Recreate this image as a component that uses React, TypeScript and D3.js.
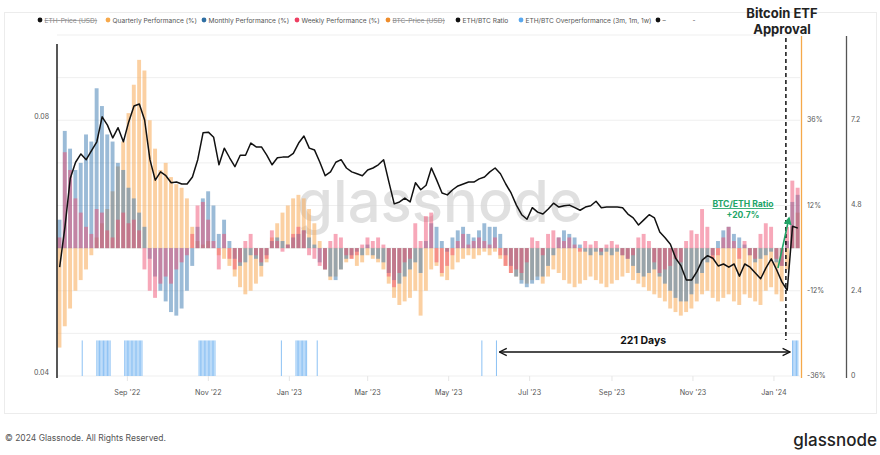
import React from 'react';
import * as d3 from 'd3';

// ---------- data ----------
const sampleStart = '2022-07-12';
const stepDays = 4;

const ethBtcRatio = [
  0.0570, 0.0633, 0.0709, 0.0734, 0.0747, 0.0738, 0.0752, 0.0766, 0.0805, 0.0792,
  0.0772, 0.0788, 0.0766, 0.0797, 0.0822, 0.0825, 0.0800, 0.0738, 0.0706, 0.0719,
  0.0713, 0.0702, 0.0703, 0.0700, 0.0700, 0.0711, 0.0738, 0.0780, 0.0781, 0.0773,
  0.0730, 0.0756, 0.0741, 0.0727, 0.0745, 0.0745, 0.0764, 0.0758, 0.0758, 0.0745,
  0.0730, 0.0741, 0.0742, 0.0742, 0.0748, 0.0764, 0.0775, 0.0756, 0.0753, 0.0734,
  0.0713, 0.0719, 0.0734, 0.0738, 0.0725, 0.0719, 0.0716, 0.0713, 0.0722, 0.0725,
  0.0730, 0.0738, 0.0703, 0.0669, 0.0672, 0.0678, 0.0672, 0.0702, 0.0691, 0.0698,
  0.0725, 0.0706, 0.0686, 0.0683, 0.0691, 0.0697, 0.0700, 0.0703, 0.0703, 0.0708,
  0.0711, 0.0719, 0.0725, 0.0716, 0.0700, 0.0686, 0.0667, 0.0652, 0.0645, 0.0663,
  0.0656, 0.0653, 0.0661, 0.0670, 0.0664, 0.0666, 0.0667, 0.0663, 0.0659, 0.0664,
  0.0666, 0.0673, 0.0663, 0.0664, 0.0664, 0.0664, 0.0663, 0.0653, 0.0647, 0.0636,
  0.0644, 0.0652, 0.0647, 0.0625, 0.0616, 0.0606, 0.0584, 0.0572, 0.0550, 0.0550,
  0.0563, 0.0581, 0.0588, 0.0584, 0.0572, 0.0575, 0.0570, 0.0575, 0.0556, 0.0575,
  0.0570, 0.0561, 0.0552, 0.0569, 0.0583, 0.0566, 0.0547, 0.0534, 0.0634, 0.0631,
];

const quarterlyPerf = [
  -28, -22, -17, -12, -9, -6, -2, 3, 7, 11,
  16, 23, 30, 38, 46, 53, 50, 36, 28, 22,
  24, 20, 18, 17, 14, 6, 2, 1, 2, 0,
  -2, -3, -5, -8, -11, -13, -12, -10, -8, -4,
  3, 7, 10, 12, 14, 15, 14, 11, 7, 2,
  -6, -9, -8, -6, -4, -3, -5, -4, -2, -3,
  -4, -6, -10, -14, -16, -15, -14, -12, -19, -12,
  -6, -5, -8, -9, -6, -4, -3, -2, -3, -2,
  -1, -2, -1, -3, -5, -7, -8, -9, -10, -9,
  -8, -10, -8, -6, -7, -9, -10, -11, -10, -9,
  -8, -9, -10, -11, -10, -9, -8, -7, -9, -10,
  -11, -12, -13, -14, -15, -17, -18, -19, -18, -17,
  -15, -13, -12, -14, -15, -14, -13, -15, -16, -13,
  -14, -15, -16, -12, -11, -13, -15, -6, 6, 10,
];

const monthlyPerf = [
  8, 33, 28, 22, 24, 32, 30, 45, 40, 32,
  30, 24, 22, 17, 14, 10, 6, -3, -8, -12,
  -15, -18, -19, -17, -12, -5, 6, 14, 16, 12,
  4, 8, 2, -3, -5, -4, -2, -3, -5, -2,
  2, 3, 2, 1, 3, 4, 5, 3, 1, -4,
  -6, -8, -9, -6, -3, -2, -1, -2, 1, -2,
  -3, -4, -7, -9, -10, -8, -6, -4, -7, 2,
  7, 6, 2, -1, 3, 5, 6, 4, 3, 5,
  7, 6, 6, 4, -2, -5, -8, -10, -11, -10,
  -9, -8, -5, -2, 3, 5, 4, 3, 1, -1,
  -2, -1, -2, -1, -2, -1, -2, -3, -5, -7,
  -8, -7, -6, -8, -10, -12, -14, -15, -15, -13,
  -10, -7, -4, -2, 2, 5, 6, 4, 3, 1,
  -2, -4, -3, -2, -1, -4, -5, 2, 13, 15,
];

const weeklyPerf = [
  3, 27, 22, 14, 10, 6, 4, 11, 10, 5,
  3, 8, 10, 7, 8, 5, -6, -12, -14, -10,
  -8, -10, -6, -4, -2, 4, 12, 13, 8, 2,
  -6, 4, -3, -6, -4, 2, 4, -2, -4, -3,
  5, 2, -1, 1, 4, 6, 5, -2, -3, -5,
  -6, 2, 4, 3, -2, -3, -2, 1, 3, 2,
  3, 1, -8, -11, -7, -4, -3, 7, 2, 9,
  10, -4, -7, -5, -2, 2, 4, 1, 2, 3,
  2, 1, 3, -2, -5, -7, -6, -7, -4, 3,
  2, -2, 4, 5, 3, 2, 3, 1, -1, 2,
  1, 2, -1, 1, 2, 1, -2, -3, -2, 3,
  4, 2, -4, -7, -6, -5, -3, -4, 2, 5,
  4, 11, 6, -3, -2, 3, 6, 2, -3, 2,
  -2, -3, 4, 7, 6, -3, -5, 6, 19, 17,
];

// days on which ETH/BTC overperformed on all of 3m, 1m, 1w (value 1)
const overperfRanges: [string, string][] = [
  ['2022-07-29', '2022-07-29'],
  ['2022-08-09', '2022-08-19'],
  ['2022-08-30', '2022-09-12'],
  ['2022-10-25', '2022-11-06'],
  ['2022-12-26', '2022-12-26'],
  ['2023-01-06', '2023-01-14'],
  ['2023-01-22', '2023-01-22'],
  ['2023-05-26', '2023-05-26'],
  ['2023-06-06', '2023-06-06'],
  ['2024-01-15', '2024-01-19'],
];

const monthTicks = ['2022-09-01', '2022-11-01', '2023-01-01', '2023-03-01', '2023-05-01', '2023-07-01', '2023-09-01', '2023-11-01', '2024-01-01'];
const ratioTicks = [0.04, 0.08];
const pctTicks = [36, 12, -12, -36];
const pctGrid = [60, 48, 36, 24, 12, 0, -12, -24, -36];
const overTicks = [0, 2.4, 4.8, 7.2];

const legendLabels = [
  'ETH-Price (USD)', 'Quarterly Performance (%)', 'Monthly Performance (%)', 'Weekly Performance (%)',
  'BTC-Price (USD)', 'ETH/BTC Ratio', 'ETH/BTC Overperformance (3m, 1m, 1w)', '–', '-',
];
const legendColors = ['#111', '#f7a94b', '#2f6fa3', '#ee3f62', '#ee8c2b', '#111', '#5aa8ee', '#111', 'none'];
const legendDisabled = [true, false, false, false, true, false, false, false, false];
const legendX = [40, 108, 204, 297, 388, 458, 521, 658, 688];

const etfDate = '2024-01-10';
const gapStart = '2023-06-06';
const gapEnd = '2024-01-13';

// ---------- component ----------
export default function App() {
  const W = 880, H = 455;
  const parse = d3.utcParse('%Y-%m-%d');
  const P = (s: string) => parse(s) as Date;

  const x = d3.scaleUtc().domain([P('2022-07-10'), P('2024-01-21')]).range([57, 800.5]);
  const yPct = d3.scaleLinear().domain([-36, 60]).range([376, 35]);
  const yRatio = d3.scaleLinear().domain([0.04, 0.08]).range([376, 120]);
  const yOver = d3.scaleLinear().domain([0, 7.2]).range([376, 120]);

  const start = P(sampleStart);
  const dateAt = (k: number) => d3.utcDay.offset(start, k * stepDays);
  const half = stepDays / 2;

  const bars = (vals: number[], color: string, op: number) =>
    vals.map((v, k) => {
      const d = dateAt(k);
      const x0 = x(d3.utcDay.offset(d, -half));
      const x1 = x(d3.utcDay.offset(d, half));
      const y0 = yPct(0);
      const yv = yPct(v);
      return (
        <rect key={k} x={x0 + 0.5} width={Math.max(0.5, x1 - x0 - 1.4)} y={Math.min(y0, yv)}
          height={Math.abs(yv - y0)} fill={color} fillOpacity={op} />
      );
    });

  const line = d3.line<number>()
    .x((_, k) => x(dateAt(k)))
    .y((v) => yRatio(v));

  const overDays: Date[] = [];
  overperfRanges.forEach(([a, b]) => {
    d3.utcDay.range(P(a), d3.utcDay.offset(P(b), 1)).forEach((d) => overDays.push(d));
  });
  const dayW = x(P('2022-07-11')) - x(P('2022-07-10'));

  const font = 'Inter, "Open Sans", "DejaVu Sans", sans-serif';
  const xEtf = x(P(etfDate));
  const xg0 = x(P(gapStart));
  const xg1 = x(P(gapEnd));

  return (
    <svg width={W} height={H} style={{ position: 'absolute', left: 0, top: 0, background: '#fff' }} fontFamily={font}>
      <defs>
        <marker id="arrH" viewBox="0 0 10 10" refX="9" refY="5" markerWidth="7" markerHeight="7" orient="auto-start-reverse">
          <path d="M1,1 L9,5 L1,9" fill="none" stroke="#111" strokeWidth="1.4" />
        </marker>
        <marker id="arrG" viewBox="0 0 10 10" refX="8" refY="5" markerWidth="5" markerHeight="5" orient="auto">
          <path d="M0,0 L10,5 L0,10 z" fill="#21a567" />
        </marker>
      </defs>
      {/* panel */}
      <rect x={4.5} y={12.5} width={872} height={401} fill="#fff" stroke="#ececec" />

      {/* legend */}
      {legendLabels.map((lab, i) => (
        <g key={i}>
          {legendColors[i] !== 'none' && <circle cx={legendX[i]} cy={20} r={2.4} fill={legendColors[i]} />}
          <text x={legendX[i] + 4.5} y={22.5} fontSize={6.6} fill={legendDisabled[i] ? '#888' : '#555'}
            textDecoration={legendDisabled[i] ? 'line-through' : undefined}>{lab}</text>
        </g>
      ))}

      {/* grid */}
      {pctGrid.map((v) => (
        <line key={v} x1={57} x2={800} y1={yPct(v)} y2={yPct(v)} stroke="#efefef" strokeWidth={1} />
      ))}
      {monthTicks.map((m) => (
        <line key={m} x1={x(P(m))} x2={x(P(m))} y1={376} y2={381} stroke="#e6e6e6" />
      ))}

      {/* watermark */}
      <text x={440} y={222} textAnchor="middle" fontSize={58} fill="#d6d6d6" fillOpacity={0.75}
        fontFamily="Inter, sans-serif" fontWeight={500}>glassnode</text>

      {/* performance bars */}
      <g>{bars(quarterlyPerf, '#f8ae5e', 0.58)}</g>
      <g>{bars(monthlyPerf, '#3f7db2', 0.52)}</g>
      <g>{bars(weeklyPerf, '#ef4a6c', 0.48)}</g>

      {/* overperformance */}
      {overDays.map((d, i) => (
        <rect key={i} x={x(d) - dayW / 2 + 0.15} width={dayW - 0.3} y={yOver(1)} height={yOver(0) - yOver(1)} fill="#8fc3f4" />
      ))}

      {/* ratio line */}
      <path d={line(ethBtcRatio) || ''} fill="none" stroke="#111" strokeWidth={1.5} strokeLinejoin="round" />

      {/* axes lines */}
      <line x1={57} x2={57} y1={44} y2={378} stroke="#111" strokeWidth={1.4} />
      <line x1={801.5} x2={801.5} y1={36} y2={378} stroke="#f5a94a" strokeWidth={1.3} />
      <line x1={846.5} x2={846.5} y1={36} y2={378} stroke="#555" strokeWidth={1.3} />

      {/* tick labels */}
      {ratioTicks.map((v) => (
        <text key={v} x={49} y={yRatio(v) - 1} textAnchor="end" fontSize={7} fill="#555">{v.toFixed(2)}</text>
      ))}
      {pctTicks.map((v) => (
        <text key={v} x={807} y={yPct(v) + 2} fontSize={7} fill="#555">{v}%</text>
      ))}
      {overTicks.map((v) => (
        <text key={v} x={851} y={yOver(v) + 2} fontSize={7} fill="#555">{v === 0 ? '0' : v.toFixed(1)}</text>
      ))}
      {monthTicks.map((m) => (
        <text key={m} x={x(P(m))} y={395} textAnchor="middle" fontSize={7.2} fill="#555">
          {d3.utcFormat("%b '%y")(P(m))}
        </text>
      ))}

      {/* ETF approval */}
      <line x1={xEtf} x2={xEtf} y1={38} y2={340} stroke="#111" strokeWidth={1.5} strokeDasharray="4,3" />
      <text x={782} y={18} textAnchor="middle" fontSize={13} fontWeight={700} fill="#222">Bitcoin ETF</text>
      <text x={782} y={34} textAnchor="middle" fontSize={13} fontWeight={700} fill="#222">Approval</text>

      {/* 221 days */}
      <line x1={xg0 + 3} x2={xg1} y1={352} y2={352} stroke="#111" strokeWidth={1.3}
        markerStart="url(#arrH)" markerEnd="url(#arrH)" />
      <text x={(xg0 + xg1) / 2} y={344} textAnchor="middle" fontSize={10.5} fontWeight={700} fill="#111">221 Days</text>

      {/* BTC/ETH ratio annotation */}
      <line x1={778} y1={268} x2={789} y2={218} stroke="#21a567" strokeWidth={1.6} markerEnd="url(#arrG)" />
      <text x={743} y={207} textAnchor="middle" fontSize={8.6} fontWeight={700} fill="#21a567" textDecoration="underline">BTC/ETH Ratio</text>
      <text x={743} y={218} textAnchor="middle" fontSize={8.6} fontWeight={700} fill="#21a567">+20.7%</text>

      {/* footer */}
      <text x={5} y={441} fontSize={8.5} fill="#555">© 2024 Glassnode. All Rights Reserved.</text>
      <text x={877} y={446} textAnchor="end" fontSize={17} fill="#222" fontWeight={500}>glassnode</text>
    </svg>
  );
}
